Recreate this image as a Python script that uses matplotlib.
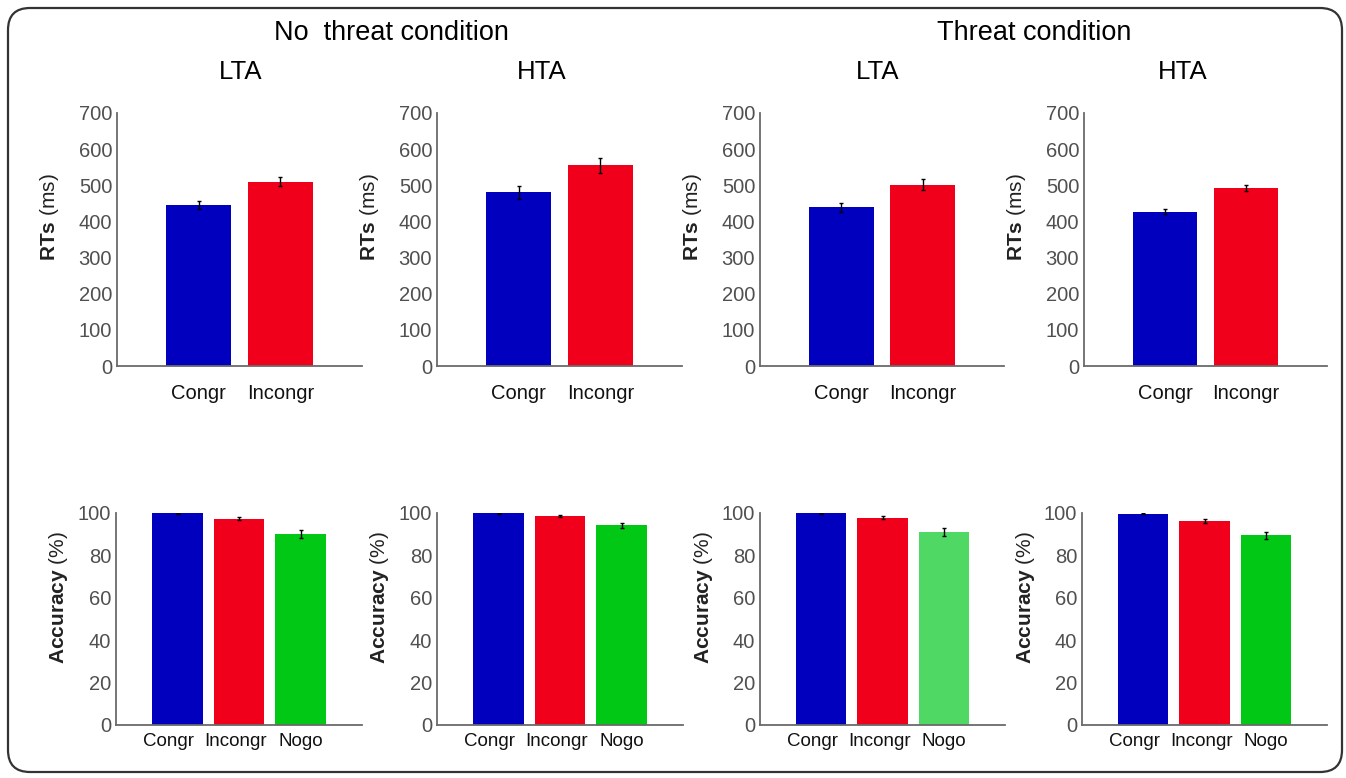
import matplotlib
matplotlib.use('Agg')
import matplotlib.pyplot as plt
from matplotlib.patches import FancyBboxPatch
from matplotlib.transforms import ScaledTranslation

plt.rcParams['font.family'] = ['Liberation Sans', 'DejaVu Sans']
plt.rcParams['mathtext.fontset'] = 'custom'
plt.rcParams['mathtext.rm'] = 'Liberation Sans'
plt.rcParams['mathtext.bf'] = 'Liberation Sans:bold'

# data
rt_labels = ['Congr', 'Incongr']
acc_labels = ['Congr', 'Incongr', 'Nogo']

rt_nothreat_lta = [446, 510]
rt_nothreat_lta_err = [11, 13]
rt_nothreat_hta = [481, 555]
rt_nothreat_hta_err = [18, 21]
rt_threat_lta = [439, 502]
rt_threat_lta_err = [12, 15]
rt_threat_hta = [427, 492]
rt_threat_hta_err = [7, 9]

acc_nothreat_lta = [99.8, 97.3, 90.1]
acc_nothreat_lta_err = [0.3, 0.7, 2.0]
acc_nothreat_hta = [99.8, 98.6, 94.2]
acc_nothreat_hta_err = [0.3, 0.5, 1.3]
acc_threat_lta = [99.9, 97.8, 91.0]
acc_threat_lta_err = [0.3, 0.6, 2.0]
acc_threat_hta = [99.6, 96.4, 89.4]
acc_threat_hta_err = [0.3, 1.0, 1.6]

blue = '#0000BE'
red = '#F0001A'
green = '#00C814'
lightgreen = '#50D864'
axcol = '#6a6a6a'
tickcol = '#505050'

W, H = 1346, 778
fig = plt.figure(figsize=(W / 100, H / 100), dpi=100)

def px_axes(x0, x1, y0, y1):
    return fig.add_axes([x0 / W, 1 - y1 / H, (x1 - x0) / W, (y1 - y0) / H])

def style(ax, pad, xsize):
    for s in ['top', 'right']:
        ax.spines[s].set_visible(False)
    for s in ['left', 'bottom']:
        ax.spines[s].set_color(axcol)
        ax.spines[s].set_linewidth(1.3)
    ax.tick_params(axis='both', length=0, labelsize=14.5, colors=tickcol)
    ax.tick_params(axis='x', pad=pad, labelcolor='#111111', labelsize=xsize)

def rt_panel(x0, x1, vals, errs):
    ax = px_axes(x0, x1, 113, 366)
    xs = range(1, len(vals) + 1)
    ax.bar(xs, vals, width=0.8, color=[blue, red], zorder=2)
    ax.errorbar(xs, vals, yerr=errs, fmt='none', ecolor='black', elinewidth=1,
                capsize=1.5, zorder=3)
    ax.set_xlim(0, 3)
    ax.set_ylim(0, 700)
    ax.set_yticks(range(0, 701, 100))
    ax.set_xticks(list(xs))
    ax.set_xticklabels(rt_labels)
    style(ax, 13, 14.5)
    ax.set_ylabel(r'$\mathbf{RTs}$ (ms)', fontsize=15, color='#222222')
    ax.yaxis.set_label_coords(-0.23, 0.59)
    return ax

def acc_panel(x0, x1, vals, errs, nogo_col):
    ax = px_axes(x0, x1, 513, 725)
    xs = range(1, len(vals) + 1)
    ax.bar(xs, vals, width=0.82, color=[blue, red, nogo_col], zorder=2)
    ax.errorbar(xs, vals, yerr=errs, fmt='none', ecolor='black', elinewidth=1,
                capsize=1.5, zorder=3)
    ax.set_xlim(0, 4)
    ax.set_ylim(0, 100)
    ax.set_yticks(range(0, 101, 20))
    ax.set_xticks(list(xs))
    ax.set_xticklabels(acc_labels)
    style(ax, 6, 13.5)
    # squeeze the labels apart a little, as in the original
    shifts = [-9, -3, 0]
    for lab, dx in zip(ax.get_xticklabels(), shifts):
        lab.set_transform(lab.get_transform() + ScaledTranslation(dx / 100, 0, fig.dpi_scale_trans))
    ax.set_ylabel(r'$\mathbf{Accuracy}$ (%)', fontsize=15, color='#222222')
    ax.yaxis.set_label_coords(-0.185, 0.6)
    return ax

rt_panel(117, 362, rt_nothreat_lta, rt_nothreat_lta_err)
rt_panel(437, 682, rt_nothreat_hta, rt_nothreat_hta_err)
rt_panel(760, 1004, rt_threat_lta, rt_threat_lta_err)
rt_panel(1084, 1327, rt_threat_hta, rt_threat_hta_err)

acc_panel(116, 362, acc_nothreat_lta, acc_nothreat_lta_err, green)
acc_panel(437, 683, acc_nothreat_hta, acc_nothreat_hta_err, green)
acc_panel(760, 1005, acc_threat_lta, acc_threat_lta_err, lightgreen)
acc_panel(1082, 1327, acc_threat_hta, acc_threat_hta_err, green)

# overlay in pixel units for the frame and titles
ov = fig.add_axes([0, 0, 1, 1], zorder=-1)
ov.set_xlim(0, W)
ov.set_ylim(H, 0)
ov.axis('off')
ov.add_patch(FancyBboxPatch((8, 8), 1334, 764, boxstyle='round,pad=0,rounding_size=22',
                            fill=False, edgecolor='#333333', linewidth=1.6))
ov.text(391, 33, 'No  threat condition', fontsize=19.5, ha='center', va='center')
ov.text(1034, 33, 'Threat condition', fontsize=19.5, ha='center', va='center')
for x, t in [(241, 'LTA'), (542, 'HTA'), (878, 'LTA'), (1183, 'HTA')]:
    ov.text(x, 72, t, fontsize=18.5, ha='center', va='center')

fig.savefig('out.png', dpi=100)
